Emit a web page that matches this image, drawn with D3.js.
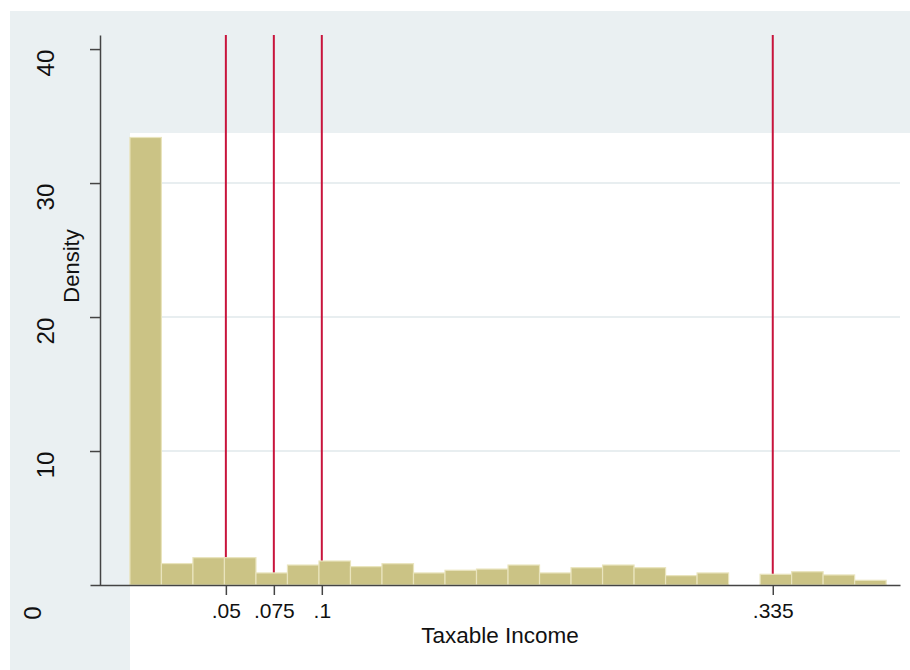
<!DOCTYPE html>
<html>
<head>
<meta charset="utf-8">
<script src="https://cdn.jsdelivr.net/npm/d3@7"></script>
<style>
  body { margin: 0; background: #fff; }
  text { font-family: "Liberation Sans", Arial, sans-serif; fill: #111; }
</style>
</head>
<body>
<div id="chart"></div>
<script>
// histogram densities, one per bin (bin 19 is empty)
var densities = [33.4, 1.6, 2.04, 2.04, 0.9, 1.49, 1.79, 1.37, 1.59, 0.9, 1.1, 1.19,
                 1.49, 0.9, 1.29, 1.49, 1.29, 0.7, 0.9, 0, 0.8, 0.99, 0.75, 0.35];
var binWidth = 0.01642;
// tax bracket cutoffs (red lines + x ticks)
var cutoffs = [0.05, 0.075, 0.1, 0.335];
var cutoffLabels = [".05", ".075", ".1", ".335"];
var yTicks = [0, 10, 20, 30, 40];
var gridVals = [10, 20, 30];

var W = 910, H = 670;

var svg = d3.select("#chart")
  .append("svg")
    .attr("width", W)
    .attr("height", H);

// background regions (stata style: gray graph region, white plot region)
svg.append("rect")
  .attr("x", 10).attr("y", 11)
  .attr("width", W - 10).attr("height", H - 11)
  .attr("fill", "#eaf0f2");
svg.append("rect")
  .attr("x", 130).attr("y", 133)
  .attr("width", W - 130).attr("height", H - 133)
  .attr("fill", "#ffffff");

// scales
var x = d3.scaleLinear()
    .domain([-0.0208, 0.4013])
    .range([90, 900]);
var y = d3.scaleLinear()
    .domain([0, 41.05])
    .range([585, 35]);

// gridlines
svg.append("g")
  .selectAll("line")
  .data(gridVals)
  .enter().append("line")
    .attr("x1", x(0)).attr("x2", 900)
    .attr("y1", function(d) { return y(d); })
    .attr("y2", function(d) { return y(d); })
    .attr("stroke", "#e0e9eb")
    .attr("stroke-width", 1.5);

// red vertical lines at cutoffs (behind the bars)
svg.append("g")
  .selectAll("line")
  .data(cutoffs)
  .enter().append("line")
    .attr("x1", function(d) { return x(d); })
    .attr("x2", function(d) { return x(d); })
    .attr("y1", y(41.05))
    .attr("y2", y(0))
    .attr("stroke", "#c8143c")
    .attr("stroke-width", 2);

// bars
svg.append("g")
  .selectAll("rect")
  .data(densities.map(function(d, i) { return {i: i, v: d}; }).filter(function(d) { return d.v > 0; }))
  .enter().append("rect")
    .attr("x", function(d) { return x(d.i * binWidth); })
    .attr("width", function(d) { return x((d.i + 1) * binWidth) - x(d.i * binWidth); })
    .attr("y", function(d) { return y(d.v); })
    .attr("height", function(d) { return y(0) - y(d.v); })
    .attr("fill", "#cbc385")
    .attr("stroke", "#e9e4bd")
    .attr("stroke-width", 1.2);

// x axis
var xAxis = svg.append("g")
  .attr("transform", "translate(0,585)")
  .call(d3.axisBottom(x)
    .tickValues(cutoffs)
    .tickFormat(function(d, i) { return cutoffLabels[i]; })
    .tickSize(10)
    .tickSizeOuter(0)
    .tickPadding(8));
xAxis.select(".domain").attr("stroke", "#444").attr("stroke-width", 1.5);
xAxis.selectAll(".tick line").attr("stroke", "#444").attr("stroke-width", 1.5);
xAxis.selectAll(".tick text")
  .style("font-size", "21px")
  .style("font-family", "Liberation Sans, Arial, sans-serif")
  .attr("fill", "#111");

// y axis line + ticks (labels drawn separately, they sit below their ticks)
var yAxis = svg.append("g")
  .attr("transform", "translate(100,0)")
  .call(d3.axisLeft(y)
    .tickValues(yTicks.slice(1))
    .tickFormat("")
    .tickSize(10)
    .tickSizeOuter(0));
yAxis.select(".domain").attr("stroke", "#444").attr("stroke-width", 1.5);
yAxis.selectAll(".tick line").attr("stroke", "#444").attr("stroke-width", 1.5);

svg.append("g")
  .selectAll("text")
  .data(yTicks)
  .enter().append("text")
    .attr("transform", function(d) {
      var dx = d === 0 ? -13 : 0, dy = d === 0 ? 28 : 14;
      return "translate(" + (54 + dx) + "," + (y(d) + dy) + ") rotate(-90)";
    })
    .attr("text-anchor", "middle")
    .style("font-size", "24px")
    .text(function(d) { return d; });

// axis titles
svg.append("text")
  .attr("transform", "translate(79,266) rotate(-90)")
  .attr("text-anchor", "middle")
  .style("font-size", "22px")
  .text("Density");

svg.append("text")
  .attr("x", 500)
  .attr("y", 643)
  .attr("text-anchor", "middle")
  .style("font-size", "22.5px")
  .text("Taxable Income");
</script>
</body>
</html>
